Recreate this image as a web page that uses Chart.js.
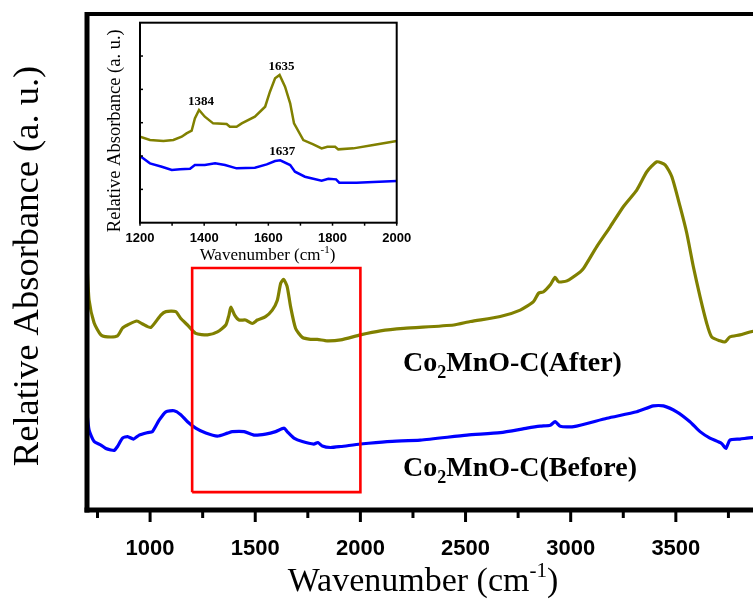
<!DOCTYPE html>
<html>
<head>
<meta charset="utf-8">
<script src="https://cdn.jsdelivr.net/npm/chart.js@4.4.1/dist/chart.umd.min.js"></script>
<style>
  html, body { margin: 0; padding: 0; background: #fff; overflow: hidden; }
  #wrap { position: relative; width: 753px; height: 601px; overflow: hidden; background: #fff; }
  #main { position: absolute; left: 0; top: 0; }
  #inset { position: absolute; left: 95px; top: 10px; }
</style>
</head>
<body>
<div id="wrap">
  <canvas id="main" width="790" height="601"></canvas>
  <canvas id="inset" width="325" height="260"></canvas>
</div>
<script>
// FTIR spectra of Co2MnO-C, full range (relative absorbance, arbitrary units)
const afterWn = [700, 710, 734, 766, 798, 845, 869, 893, 937, 964, 1003, 1051, 1075, 1122, 1146, 1178, 1217, 1273, 1320, 1360, 1375, 1384, 1402, 1423, 1454, 1486, 1510, 1549, 1581, 1605, 1621, 1635, 1652, 1668, 1692, 1724, 1763, 1795, 1842, 1906, 2000, 2095, 2206, 2444, 2523, 2665, 2760, 2823, 2847, 2871, 2903, 2926, 2942, 2982, 3045, 3061, 3124, 3188, 3251, 3314, 3362, 3410, 3449, 3481, 3520, 3552, 3583, 3615, 3647, 3670, 3710, 3734, 3757, 3805, 3852, 3920, 4000];
const afterAbs = [49.5, 42.3, 37.7, 35.3, 34.9, 35.1, 36.7, 37.3, 38.1, 37.5, 36.8, 39.3, 40.0, 40.0, 38.6, 37.3, 35.6, 35.3, 35.9, 37.3, 39.3, 40.9, 39.3, 38.3, 38.3, 37.6, 38.3, 39.0, 40.3, 42.3, 45.7, 46.5, 45.0, 41.0, 36.6, 34.8, 34.4, 34.4, 34.1, 34.3, 35.3, 36.1, 36.6, 37.3, 38.0, 39.0, 40.3, 42.0, 43.7, 44.0, 45.4, 46.9, 46.0, 46.2, 48.0, 48.7, 53.1, 57.1, 61.2, 64.5, 68.2, 70.2, 69.6, 67.2, 61.2, 55.8, 49.1, 43.0, 37.6, 34.9, 34.1, 33.9, 34.9, 35.3, 35.9, 36.5, 37.0];

const beforeWn = [700, 710, 734, 766, 790, 813, 829, 845, 869, 893, 921, 948, 988, 1011, 1043, 1075, 1114, 1146, 1178, 1217, 1265, 1320, 1368, 1391, 1447, 1494, 1549, 1597, 1637, 1652, 1684, 1724, 1779, 1798, 1819, 1858, 1906, 2000, 2127, 2285, 2507, 2665, 2792, 2855, 2903, 2926, 2950, 3014, 3172, 3314, 3393, 3441, 3504, 3567, 3615, 3662, 3718, 3738, 3757, 3805, 3861, 3950, 4000];
const beforeAbs = [19.5, 16.1, 13.8, 13.1, 12.4, 12.1, 12.0, 12.8, 14.5, 14.8, 14.3, 15.1, 15.6, 15.8, 18.1, 19.8, 20.0, 19.2, 17.8, 16.5, 15.5, 14.9, 15.5, 15.8, 15.8, 15.1, 15.3, 15.8, 16.5, 15.8, 14.5, 13.8, 13.3, 13.6, 12.9, 12.6, 12.8, 13.3, 13.8, 14.1, 15.1, 15.6, 16.5, 16.9, 17.1, 17.8, 16.9, 16.8, 18.5, 19.8, 21.0, 21.0, 19.8, 17.8, 15.8, 14.5, 13.4, 12.4, 14.1, 14.3, 14.6, 14.8, 14.9];

// Detail of the 1200-2000 cm-1 window, drawn in the inset
const insetAfterWn = [1200, 1231, 1273, 1304, 1330, 1345, 1361, 1371, 1384, 1402, 1428, 1470, 1480, 1501, 1517, 1558, 1590, 1605, 1621, 1635, 1652, 1668, 1680, 1709, 1740, 1766, 1784, 1808, 1818, 1865, 1927, 2000];
const insetAfterAbs = [25.8, 24.8, 24.5, 24.8, 25.8, 26.8, 27.6, 31.3, 33.8, 31.8, 29.8, 29.6, 28.8, 28.8, 29.8, 31.8, 34.8, 39.3, 43.3, 44.3, 40.8, 35.8, 29.8, 24.8, 23.5, 22.3, 22.8, 22.8, 22.0, 22.3, 23.3, 24.5];
const insetBeforeWn = [1200, 1231, 1268, 1299, 1325, 1356, 1371, 1402, 1434, 1465, 1501, 1558, 1595, 1621, 1637, 1668, 1683, 1714, 1766, 1787, 1811, 1821, 1875, 1927, 2000];
const insetBeforeAbs = [20.0, 17.8, 16.8, 15.8, 16.0, 16.2, 17.3, 17.3, 17.8, 17.3, 16.3, 16.5, 17.5, 18.5, 18.7, 17.3, 15.3, 13.8, 12.6, 13.2, 13.0, 12.0, 12.0, 12.2, 12.5];

// Peak positions annotated in the inset
const peakSeries = ['after', 'after', 'before'];
const peakWn = [1384, 1635, 1637];

// Tick positions on the main wavenumber axis (labels on every 500)
const mainTickWn = [750, 1000, 1250, 1500, 1750, 2000, 2250, 2500, 2750, 3000, 3250, 3500, 3750];

// Window of the full spectrum that the inset enlarges
const windowWn = [1200, 2000];
const windowAbs = [3.6, 48.8];

const seriesNames = ['Co2MnO-C(After)', 'Co2MnO-C(Before)'];

const OLIVE = '#808000';
const BLUE = '#0000ff';
const SERIF = "'Liberation Serif', 'Times New Roman', serif";
const SANS = "'Liberation Sans', Arial, sans-serif";

const toPoints = (xs, ys) => xs.map((v, i) => ({ x: v, y: ys[i] }));

function seg(ctx, x1, y1, x2, y2) {
  ctx.beginPath(); ctx.moveTo(x1, y1); ctx.lineTo(x2, y2); ctx.stroke();
}

// Draws a run of text pieces of different sizes / offsets (sub- and superscripts)
function drawRich(ctx, parts, x, y, align) {
  let w = 0;
  parts.forEach(p => { ctx.font = p.font; p.w = ctx.measureText(p.t).width; w += p.w; });
  let cx = align === 'center' ? x - w / 2 : x;
  ctx.textAlign = 'left';
  ctx.textBaseline = 'alphabetic';
  parts.forEach(p => { ctx.font = p.font; ctx.fillText(p.t, cx, y + (p.dy || 0)); cx += p.w; });
}

function chemParts(name, size) {
  // "Co2MnO-C(...)" with the 2 set as a subscript
  const i = name.indexOf('2');
  return [
    { t: name.slice(0, i), font: `bold ${size}px ${SERIF}` },
    { t: '2', font: `bold ${Math.round(size * 0.66)}px ${SERIF}`, dy: Math.round(size * 0.26) },
    { t: name.slice(i + 1), font: `bold ${size}px ${SERIF}` }
  ];
}

const mainDecor = {
  id: 'mainDecor',
  afterDraw(chart) {
    const { ctx, chartArea: a, scales: { x } } = chart;
    ctx.save();
    ctx.strokeStyle = '#000';
    ctx.lineCap = 'butt';
    ctx.lineWidth = 4;
    ctx.strokeRect(a.left, a.top, a.right - a.left, a.bottom - a.top);
    ctx.lineWidth = 5;
    seg(ctx, a.left, a.top - 2, a.left, a.bottom + 2.5);
    seg(ctx, a.left - 2.5, a.bottom, a.right + 2, a.bottom);
    ctx.lineWidth = 3;
    x.ticks.forEach(t => {
      if (t.value <= x.min || t.value >= x.max) return;
      const px = x.getPixelForValue(t.value);
      const len = t.value % 500 === 0 ? 12 : 8;
      seg(ctx, px, a.bottom, px, a.bottom + len);
    });
    ctx.fillStyle = '#000';
    drawRich(ctx, [
      { t: 'Wavenumber (cm', font: `34px ${SERIF}` },
      { t: '-1', font: `21px ${SERIF}`, dy: -14 },
      { t: ')', font: `34px ${SERIF}` }
    ], 423, 591, 'center');
    ctx.save();
    ctx.translate(38, 266);
    ctx.rotate(-Math.PI / 2);
    ctx.font = `36.5px ${SERIF}`;
    ctx.textAlign = 'center';
    ctx.textBaseline = 'alphabetic';
    ctx.fillText('Relative Absorbance (a. u.)', 0, 0);
    ctx.restore();
    drawRich(ctx, chemParts(seriesNames[0], 28), 403, 371, 'left');
    drawRich(ctx, chemParts(seriesNames[1], 28), 403, 476, 'left');
    ctx.restore();
  }
};

const insetDecor = {
  id: 'insetDecor',
  afterDraw(chart) {
    const { ctx, chartArea: a, scales: { x, y } } = chart;
    ctx.save();
    ctx.strokeStyle = '#000';
    ctx.lineWidth = 2;
    ctx.strokeRect(a.left, a.top, a.right - a.left, a.bottom - a.top);
    ctx.lineWidth = 1.5;
    x.ticks.forEach(t => {
      const px = x.getPixelForValue(t.value);
      seg(ctx, px, a.bottom, px, a.bottom + 3);
    });
    y.ticks.forEach(t => {
      if (t.value <= y.min || t.value >= y.max) return;
      const py = y.getPixelForValue(t.value);
      seg(ctx, a.left, py, a.left + 3, py);
    });
    ctx.fillStyle = '#000';
    ctx.font = `bold 13px ${SERIF}`;
    ctx.textAlign = 'center';
    ctx.textBaseline = 'alphabetic';
    peakWn.forEach((wn, k) => {
      const xs = peakSeries[k] === 'after' ? insetAfterWn : insetBeforeWn;
      const ys = peakSeries[k] === 'after' ? insetAfterAbs : insetBeforeAbs;
      const v = ys[xs.indexOf(wn)];
      ctx.fillText(String(wn), x.getPixelForValue(wn) + 2, y.getPixelForValue(v) - 5);
    });
    drawRich(ctx, [
      { t: 'Wavenumber (cm', font: `17px ${SERIF}` },
      { t: '-1', font: `11px ${SERIF}`, dy: -7 },
      { t: ')', font: `17px ${SERIF}` }
    ], 172.5, 250, 'center');
    ctx.save();
    ctx.translate(25, 120.7);
    ctx.rotate(-Math.PI / 2);
    ctx.font = `18.5px ${SERIF}`;
    ctx.textAlign = 'center';
    ctx.fillText('Relative Absorbance (a. u.)', 0, 0);
    ctx.restore();
    ctx.restore();
  }
};

new Chart(document.getElementById('main'), {
  type: 'line',
  data: {
    datasets: [
      {
        data: toPoints([windowWn[0], windowWn[0], windowWn[1], windowWn[1], windowWn[0]],
                       [windowAbs[0], windowAbs[1], windowAbs[1], windowAbs[0], windowAbs[0]]),
        borderColor: '#ff0000', borderWidth: 2.6, pointRadius: 0, tension: 0, fill: false,
        borderJoinStyle: 'miter'
      },
      { label: seriesNames[0], data: toPoints(afterWn, afterAbs), borderColor: OLIVE, borderWidth: 3.2, pointRadius: 0, tension: 0.2, fill: false },
      { label: seriesNames[1], data: toPoints(beforeWn, beforeAbs), borderColor: BLUE, borderWidth: 3.2, pointRadius: 0, tension: 0.2, fill: false }
    ]
  },
  options: {
    responsive: false,
    animation: false,
    events: [],
    layout: { padding: { top: 14, right: 9, left: 0, bottom: 0 } },
    plugins: { legend: { display: false }, tooltip: { enabled: false } },
    scales: {
      x: {
        type: 'linear', min: 700, max: 4000,
        grid: { display: false }, border: { display: false },
        afterBuildTicks(s) { s.ticks = mainTickWn.map(v => ({ value: v })); },
        ticks: {
          autoSkip: false, maxRotation: 0, padding: 18, color: '#000',
          font: { family: SANS, size: 22, weight: 'bold' },
          callback: v => v % 500 === 0 ? String(v) : ''
        },
        afterFit(s) { s.height = 91; }
      },
      y: {
        min: 0, max: 100,
        grid: { display: false }, border: { display: false },
        ticks: { display: false },
        afterFit(s) { s.width = 87; }
      }
    }
  },
  plugins: [mainDecor]
});

new Chart(document.getElementById('inset'), {
  type: 'line',
  data: {
    datasets: [
      { data: toPoints(insetAfterWn, insetAfterAbs), borderColor: OLIVE, borderWidth: 2.5, pointRadius: 0, tension: 0, fill: false },
      { data: toPoints(insetBeforeWn, insetBeforeAbs), borderColor: BLUE, borderWidth: 2.5, pointRadius: 0, tension: 0, fill: false }
    ]
  },
  options: {
    responsive: false,
    animation: false,
    events: [],
    layout: { padding: { top: 12.7, right: 23.3, left: 0, bottom: 0 } },
    plugins: { legend: { display: false }, tooltip: { enabled: false } },
    scales: {
      x: {
        type: 'linear', min: 1200, max: 2000,
        grid: { display: false }, border: { display: false },
        ticks: {
          stepSize: 100, autoSkip: false, maxRotation: 0, padding: 0, color: '#000',
          font: { family: SANS, size: 13, weight: 'bold' },
          callback: v => v % 200 === 0 ? String(v) : ''
        },
        afterFit(s) { s.height = 47.3; }
      },
      y: {
        min: 0, max: 60,
        grid: { display: false }, border: { display: false },
        ticks: { display: false, stepSize: 10 },
        afterFit(s) { s.width = 45; }
      }
    }
  },
  plugins: [insetDecor]
});
</script>
</body>
</html>
